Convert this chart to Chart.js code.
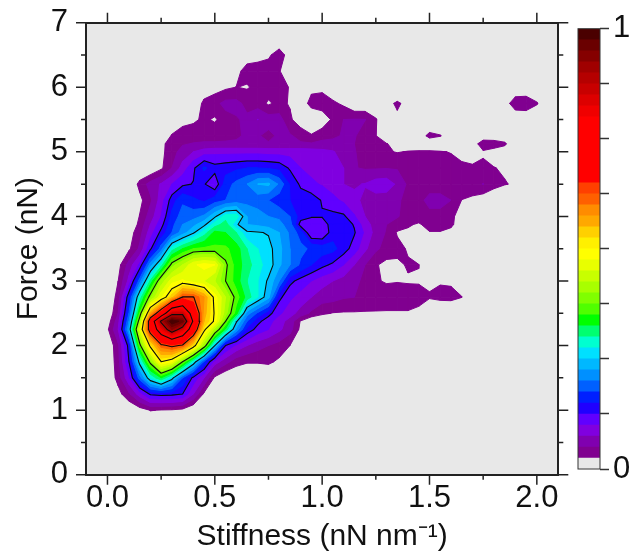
<!DOCTYPE html>
<html>
<head>
<meta charset="utf-8">
<script src="https://cdn.jsdelivr.net/npm/chart.js@4"></script>
<style>
html,body{margin:0;padding:0;background:#fff;}
#wrap{position:relative;width:633px;height:557px;overflow:hidden;}
canvas{position:absolute;top:0;}
#main{left:0;}
#bar{left:560px;}
</style>
</head>
<body>
<div id="wrap"><canvas id="main" width="633" height="557"></canvas><canvas id="bar" width="73" height="557"></canvas></div>
<script>
// Grid of the density map: stiffness (nN/nm), force (nN)
const xGrid = [0,.05,.1,.15,.2,.25,.3,.35,.4,.45,.5,.55,.6,.65,.7,.75,.8,.85,.9,.95,1,1.05,1.1,1.15,1.2,1.25,1.3,1.35,1.4,1.45,1.5,1.55,1.6,1.65,1.7,1.75,1.8,1.85,1.9,1.95,2,2.05];
const yGrid = [.75,1,1.25,1.5,1.75,2,2.25,2.375,2.5,2.75,3,3.25,3.5,3.75,3.875,4,4.25,4.5,4.75,5,5.125,5.25,5.5,5.75,6,6.25,6.5,6.75];

// Density per force row, in colour-bar steps (40 steps = 1); missing trailing columns are 0
const row075 = [];
const row100 = [0,0,0,.5,1.05,.95,.9,.7,0];
const row125 = [0,.6,1.8,3.5,5.2,5.4,5.3,5,3,.8,0];
const row150 = [0,1.4,3.8,7.5,11,13,10.5,7,4.7,3,.8];
const row175 = [0,1.6,5,10.5,15.5,20,19,15,11,6.8,3.5,2.4,1.4,1.1,1.1,1.2,.8];
const row200 = [0,1.8,5.5,14.5,20.5,24.5,25.5,24.7,21,16,10,5,3.8,3,2.4,2,1.6,1];
const row225 = [.8,3,9,18,26.5,32.5,37,33.5,27.5,20.5,16.5,12.8,8.7,5.7,4.6,4,3.2,2.4,.7];
const row2375 = [.4,2.6,8,16,27,35.5,40,38.5,29.5,22,19.7,15,10.2,7,5.3,4.4,3.4,2.6,.9];
const row250 = [0,2,7,14,22.5,27,34,34.3,28,22.5,19.8,16.4,13.5,8.5,6.8,5.4,4.2,3.4,2.6,1.8,1.2,.95,.9,.9,.9,.9,.9,.9,.9,.7,.5,.4,.3];
const row275 = [0,1.4,5.8,11.3,15.7,18.8,21.5,25.1,25.1,23,19.5,17,14.5,12.6,11,9.3,5.3,4.2,3.6,3,2.5,2.4,2.1,2,1.7,1.6,1.5,1.5,1.5,1.4,1.05,1.15,1.2,1.02];
const row300 = [0,1,3.3,7.5,12.2,16.3,18.6,19.2,18.4,18,17,15,13.5,12,11,9.8,8,5.3,4.6,4,3.4,3,2.6,2.2,1.8,1.1,.9,.95,.9,.9,.9,.95,.9,.6];
const row325 = [0,.6,2.4,4.2,8.5,11.5,15.5,17,18.8,19.4,19,15.3,13.5,12.5,11.3,10.6,9.2,8,6.8,6,5.3,4.8,4,3,2,1.1,.7,.8,1.1,1.03,0];
const row350 = [0,0,.8,2.2,4.8,7.5,11.5,13,14,14.2,14.2,14.2,13.5,12,11,10.4,9.3,8,7.3,6.8,6.5,6.3,5.5,4.5,3.2,2.2,1.6,1.3,.9];
const row375 = [0,0,.5,1.6,3.5,5.3,7,8.5,9.8,11.5,13.3,13,12,10.2,10.1,9.9,9,7.8,6.5,4,4,5.6,5.5,5.1,3.8,2.6,1.9,.9,.85,.8,.95,.95,.7];
const row3875 = [0,0,0,1.3,3,4.6,6.7,8,8.7,9.7,11.5,12.5,10.2,9,8.8,8.5,8.3,7.5,4.5,4.3,4.3,5.6,5.6,4.9,3.4,2.6,2,1.5,1.1,.9,1.3,1.3,1.2,.4];
const row400 = [0,0,0,1.05,2.5,4,6.3,7.5,7.6,8.2,9.8,11.5,11.6,9,8.5,8,7.8,7,5.5,5.1,5.1,5.3,5.2,4.1,3,2.6,2.2,2.1,1.5,1.4,1.8,1.8,1.2,.6];
const row425 = [0,0,0,.7,1.8,3.5,5.5,6.8,6.2,5.8,6.5,7,7.4,7.6,7.4,7,6.4,6,5.6,5.6,4.9,4.3,3.8,3.2,2.8,2.6,2.4,2.1,1.8,1.8,2.2,2.2,2,.98,.85,.3,.5];
const row450 = [0,0,0,1.3,2.4,3.1,4,4.8,5.05,5.1,4.2,6.5,7.3,8,9,9.2,7.8,5.9,4.8,4.2,3.9,3.5,3,2.9,3.05,3.5,3.6,2.8,1.8,1.6,1.7,1.7,1.6,1.5,1.4,2.05,1.2,1.05,.9];
const row475 = [0,0,0,0,0,.8,2,3.4,4.8,6.2,5.4,5.6,5.8,6,6,5.9,5.7,4.85,4,3.7,3.9,3.6,3,2.05,1.9,1.9,1.95,1.9,1.4,1.3,1.3,1.25,1.25,1.2,1.15,1.15,1.03,.9];
const row500 = [0,0,0,0,0,.7,1.6,2.4,3,3.5,3.7,3.7,3.7,3.7,3.7,3.6,3.6,3.6,3.6,3.5,3.3,3.1,2.5,2.1,1.4,1.3,1.1,.95,1.05,1.1,1.1,1.05,.97,.7,.5,.9,.6,.4];
const row5125 = [0,0,0,0,0,.7,1.5,1.9,2.05,2.1,2.1,2.1,2.1,2.1,2.1,2.1,2.1,2.1,2.1,2.1,2.3,2.3,2.2,2,1.7,1.3,1.05,.6,.5,.4,.4,.4,.1,0,.5,1.5,1.5,1.2,0];
const row525 = [0,0,0,0,0,0,1.1,1.4,1.6,1.7,1.7,1.8,1.9,2.1,2.1,1.7,2.2,2.1,1.7,1.1,1.6,1.8,2.1,2.1,1.5,1.03,0,0,0,.5,1.25,1.05,.5,0,0,.4,.3,.2,0];
const row550 = [0,0,0,0,0,0,0,.7,.8,1.2,.85,1.6,1.9,2.2,3.02,2.5,2.4,1.2,.3,0,.3,1.2,2,2.05,2.03,1.1,0,.8];
const row575 = [0,0,0,0,0,0,0,0,0,1.3,1.7,2.3,2.3,1.7,1.5,.85,1.3,.9,.3,1.4,1.6,1.2,.8,0,0,0,.7,1.15,.7,0,0,0,0,0,0,0,0,.4,1.7,1.8,1.1,0];
const row600 = [0,0,0,0,0,0,0,0,0,.2,.5,.8,1.02,.9,1.3,1.5,1.3,.95,0,.7,.7,.2];
const row625 = [0,0,0,0,0,0,0,0,0,0,0,0,.7,1.4,1.5,1.6,1.1];
const row650 = [0,0,0,0,0,0,0,0,0,0,0,0,0,.5,.6,.8,1.6,.4];
const row675 = [];
const densityRows = [row075,row100,row125,row150,row175,row200,row225,row2375,row250,row275,row300,row325,row350,row375,row3875,row400,row425,row450,row475,row500,row5125,row525,row550,row575,row600,row625,row650,row675];

// Colour-bar steps, bottom to top
const bandColors = ['#e8e8e8','#800090','#8000b0','#8000e0','#6000ff','#2000ff','#0020ff','#0060ff','#0090ff','#00b8ff',
 '#00e0ff','#00ffd0','#00ff70','#00ff00','#50ff00','#80ff00','#a8ff00','#c8ff00','#e8ff00','#ffff00',
 '#fff000','#ffd000','#ffa800','#ff8c00','#ff6000','#ff4000','#ff0000','#ff0000','#ff0000','#ff0000',
 '#ff0000','#ff0000','#f00000','#dd0000','#c80000','#b50000','#a00000','#850000','#6a0000','#4a0000'];
const lineLevels = [5,10,15,20,25,30,35];
const xTicks = [0,.25,.5,.75,1,1.25,1.5,1.75,2];
const yTicks = [0,.5,1,1.5,2,2.5,3,3.5,4,4.5,5,5.5,6,6.5,7];
const barTicks = [0,.125,.25,.375,.5,.625,.75,.875,1];
const barStep = 0.025;

const zAt = (r,c) => { const v = densityRows[r][c]; return v === undefined ? 0 : v; };
function cross(a,b,L){ const t=(L-a[2])/(b[2]-a[2]); return {x:a[0]+t*(b[0]-a[0]), y:a[1]+t*(b[1]-a[1])}; }
function cellCorners(r,c){
  return [[xGrid[c],yGrid[r],zAt(r,c)],[xGrid[c+1],yGrid[r],zAt(r,c+1)],[xGrid[c+1],yGrid[r+1],zAt(r+1,c+1)],[xGrid[c],yGrid[r+1],zAt(r+1,c)]];
}
const GAP = {x:null,y:null};
function bandData(L){
  const out=[];
  for(let r=0;r<yGrid.length-1;r++)for(let c=0;c<xGrid.length-1;c++){
    const q=cellCorners(r,c); const zs=q.map(p=>p[2]);
    const mx=Math.max(...zs), mn=Math.min(...zs);
    if(mx<L||mn>=L+1) continue;
    const poly=[];
    for(let i=0;i<4;i++){
      const a=q[i],b=q[(i+1)%4];
      if(a[2]>=L) poly.push({x:a[0],y:a[1]});
      if((a[2]>=L)!==(b[2]>=L)) poly.push(cross(a,b,L));
    }
    poly.push(poly[0]);
    out.push(...poly,GAP);
  }
  return out;
}
function lineData(){
  const out=[];
  for(const L of lineLevels)for(let r=0;r<yGrid.length-1;r++)for(let c=0;c<xGrid.length-1;c++){
    const q=cellCorners(r,c); const pts=[];
    for(let i=0;i<4;i++){
      const a=q[i],b=q[(i+1)%4];
      if((a[2]>=L)!==(b[2]>=L)) pts.push(cross(a,b,L));
    }
    for(let i=0;i+1<pts.length;i+=2) out.push(pts[i],pts[i+1],GAP);
  }
  return out;
}
const datasets=[];
for(let L=1;L<bandColors.length;L++){
  datasets.push({label:'band '+L,data:bandData(L),showLine:true,fill:'shape',backgroundColor:bandColors[L],borderColor:bandColors[L],borderWidth:1,borderDash:[1000,0],pointRadius:0,order:100-L});
}
datasets.push({label:'contours',data:lineData(),showLine:true,fill:false,borderColor:'#0c0c0c',borderWidth:1.1,borderCapStyle:'round',pointRadius:0,order:0});

const FONT='"Liberation Sans", Arial, sans-serif';
const INK='#222';
const plotBg={id:'plotBg',beforeDatasetsDraw(ch){const a=ch.chartArea,c=ch.ctx;c.save();c.fillStyle=bandColors[0];c.fillRect(a.left,a.top,a.right-a.left,a.bottom-a.top);c.restore();}};
const tickMarks={id:'tickMarks',afterDraw(ch){
  const c=ch.ctx,a=ch.chartArea;c.save();c.strokeStyle=INK;c.lineWidth=1.5;c.beginPath();
  const major=v=>Math.abs(v*2-Math.round(v*2))<1e-6;
  for(const t of xTicks){const p=ch.scales.x.getPixelForValue(t),l=major(t)?10:5;c.moveTo(p,a.bottom);c.lineTo(p,a.bottom+l);c.moveTo(p,a.top);c.lineTo(p,a.top-l);}
  for(const t of yTicks){const p=ch.scales.y.getPixelForValue(t),l=Number.isInteger(t)?10:5;c.moveTo(a.left,p);c.lineTo(a.left-l,p);c.moveTo(a.right,p);c.lineTo(a.right+l,p);}
  c.stroke();c.restore();
}};
const edge={display:true,color:INK,width:2,z:1};
const noPad=s=>{s.paddingTop=0;s.paddingBottom=0;s.paddingLeft=0;s.paddingRight=0;};
new Chart(document.getElementById('main'),{
  type:'scatter',
  data:{datasets},
  plugins:[plotBg,tickMarks],
  options:{
    responsive:false,animation:false,events:[],devicePixelRatio:1,
    layout:{padding:0},
    plugins:{legend:{display:false},tooltip:{enabled:false}},
    scales:{
      x:{type:'linear',position:'bottom',min:-.1,max:2.1,
        afterBuildTicks(s){s.ticks=xTicks.map(value=>({value}));},
        afterFit(s){s.height=82.3;noPad(s);},
        grid:{display:false,drawTicks:false},border:edge,
        ticks:{autoSkip:false,maxRotation:0,padding:5,color:'#111',font:{family:FONT,size:31},callback:v=>Math.abs(v*2-Math.round(v*2))<1e-6?v.toFixed(1):''},
        title:{display:true,text:'Stiffness (nN nm\u207B\u00B9)',color:'#111',font:{family:FONT,size:30,lineHeight:1.1},padding:{top:0,bottom:4}}},
      y:{type:'linear',position:'left',min:0,max:7,
        afterBuildTicks(s){s.ticks=yTicks.map(value=>({value}));},
        afterFit(s){s.width=86;noPad(s);},
        grid:{display:false,drawTicks:false},border:edge,
        ticks:{autoSkip:false,padding:18,color:'#111',font:{family:FONT,size:31},callback:v=>Number.isInteger(v)?String(v):''},
        title:{display:true,text:'Force (nN)',color:'#111',font:{family:FONT,size:30},padding:{top:11,bottom:0}}},
      xTop:{type:'linear',position:'top',min:-.1,max:2.1,
        afterFit(s){s.height=22.7;noPad(s);},
        grid:{display:false,drawTicks:false},border:edge,ticks:{display:false}},
      yRight:{type:'linear',position:'right',min:0,max:7,
        afterFit(s){s.width=74.7;noPad(s);},
        grid:{display:false,drawTicks:false},border:edge,ticks:{display:false}}
    }
  }
});

// Colour bar
const barFrame={id:'barFrame',afterDraw(ch){const a=ch.chartArea,c=ch.ctx;c.save();c.strokeStyle='#333';c.lineWidth=1;c.strokeRect(a.left,a.top,a.right-a.left,a.bottom-a.top);c.restore();}};
new Chart(document.getElementById('bar'),{
  type:'bar',
  data:{labels:['density'],datasets:bandColors.map((col,i)=>({label:'step '+i,data:[barStep],backgroundColor:col,borderWidth:0,barPercentage:1,categoryPercentage:1}))},
  plugins:[barFrame],
  options:{
    responsive:false,animation:false,events:[],devicePixelRatio:1,
    layout:{padding:{left:18,top:28.7,bottom:88,right:0}},
    plugins:{legend:{display:false},tooltip:{enabled:false}},
    scales:{
      x:{stacked:true,display:false},
      y:{stacked:true,position:'right',min:0,max:1,
        afterBuildTicks(s){s.ticks=barTicks.map(value=>({value}));},
        afterFit(s){s.width=33;},
        grid:{drawOnChartArea:false,tickLength:9,tickColor:'#333',tickWidth:1.5},border:{display:false},
        ticks:{autoSkip:false,padding:4,color:'#111',font:{family:FONT,size:31},callback:v=>(v===0||v===1)?String(v):''}}
    }
  }
});
</script>
</body>
</html>
